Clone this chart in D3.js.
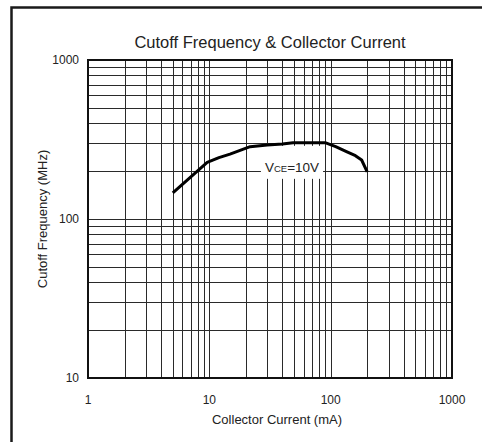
<!DOCTYPE html>
<html><head><meta charset="utf-8">
<script src="https://cdn.jsdelivr.net/npm/d3@7"></script>
<style>body{margin:0;background:#fff}svg{display:block}text{font-family:"Liberation Sans",Arial,sans-serif;fill:#222}</style>
</head><body>
<svg id="c" width="482" height="442"></svg>
<script>
// Data
const current = [5, 9.6, 12, 14.8, 21.7, 30, 40, 49, 90, 110, 135, 160, 180, 200];      // mA
const fT      = [146, 227, 243, 256, 285, 292, 296, 302, 302, 285, 265, 250, 235, 198];   // MHz
const xTickLabels = [1, 10, 100, 1000];
const yTickLabels = [10, 100, 1000];
const title = "Cutoff Frequency & Collector Current";
const xTitle = "Collector Current (mA)";
const yTitle = "Cutoff Frequency (MHz)";
const curveLabel = {I: 48, f: 198};

const svg = d3.select("#c");
const m = {l: 88, r: 452, t: 60, b: 378};
const x = d3.scaleLog().domain([1, 1000]).range([m.l, m.r]);
const y = d3.scaleLog().domain([10, 1000]).range([m.b, m.t]);

// outer frame (right/bottom clipped)
svg.append("rect").attr("x", 11.5).attr("y", 7.5).attr("width", 600).attr("height", 600)
  .attr("fill", "none").attr("stroke", "#1a1a1a").attr("stroke-width", 2.5);

// title
svg.append("text").attr("x", 270).attr("y", 48).attr("text-anchor", "middle")
  .attr("font-size", 16.5).text(title);

const g = svg.append("g");
// grid
g.selectAll("line.vx").data(x.ticks()).join("line")
  .attr("x1", d => Math.round(x(d)) + 0.5).attr("x2", d => Math.round(x(d)) + 0.5)
  .attr("y1", m.t).attr("y2", m.b).attr("stroke", "#2a2a2a").attr("stroke-width", 1);
g.selectAll("line.hy").data(y.ticks()).join("line")
  .attr("y1", d => Math.round(y(d)) + 0.5).attr("y2", d => Math.round(y(d)) + 0.5)
  .attr("x1", m.l).attr("x2", m.r).attr("stroke", "#2a2a2a").attr("stroke-width", 1);
// plot border
g.append("rect").attr("x", m.l).attr("y", m.t).attr("width", m.r - m.l).attr("height", m.b - m.t)
  .attr("fill", "none").attr("stroke", "#111").attr("stroke-width", 2);

// tick labels
svg.selectAll("text.xt").data(xTickLabels).join("text")
  .attr("x", d => x(d)).attr("y", 404).attr("text-anchor", "middle").attr("font-size", 12).text(d => d);
svg.selectAll("text.yt").data(yTickLabels).join("text")
  .attr("x", 79).attr("y", d => y(d) + 4).attr("text-anchor", "end").attr("font-size", 12).text(d => d);

// axis titles
svg.append("text").attr("x", 277).attr("y", 424).attr("text-anchor", "middle").attr("font-size", 13).text(xTitle);
svg.append("text").attr("transform", "translate(47,219) rotate(-90)").attr("text-anchor", "middle")
  .attr("font-size", 13).text(yTitle);

// label
const lx = x(curveLabel.I), ly = y(curveLabel.f);
const lab = svg.append("text").attr("x", lx).attr("y", ly).attr("text-anchor", "middle");
lab.append("tspan").attr("font-size", 13.5).text("V");
lab.append("tspan").attr("font-size", 9.5).text("CE");
lab.append("tspan").attr("font-size", 13.5).text("=10V");
const bb = lab.node().getBBox();
svg.insert("rect", "text:last-of-type").attr("x", bb.x - 4).attr("y", ly - 26)
  .attr("width", bb.width + 8).attr("height", 33).attr("fill", "#fff");

// curve
svg.append("path").datum(current.map((c, i) => [c, fT[i]]))
  .attr("d", d3.line().x(d => x(d[0])).y(d => y(d[1])))
  .attr("fill", "none").attr("stroke", "#000").attr("stroke-width", 3).attr("stroke-linejoin", "round");
</script>
</body></html>
